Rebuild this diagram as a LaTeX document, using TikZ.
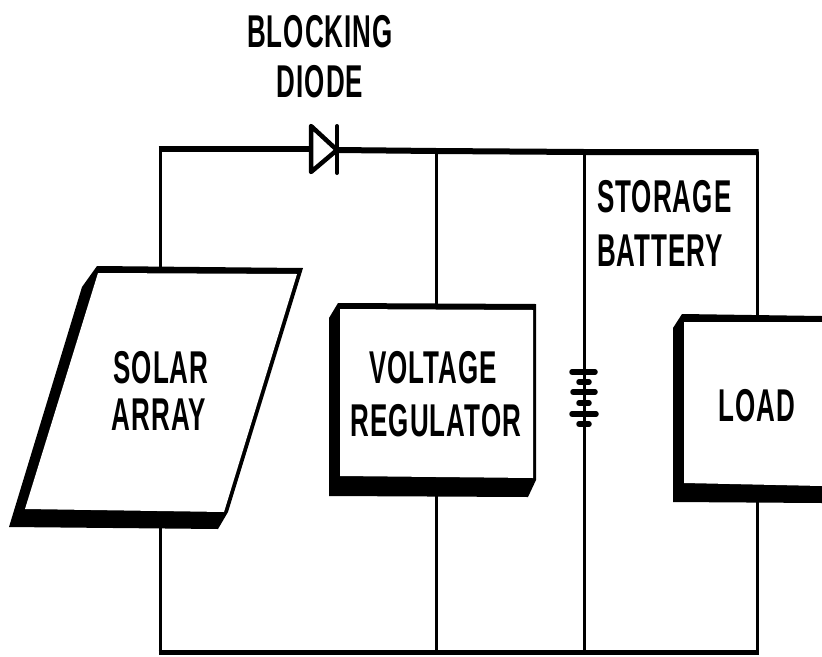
\documentclass[tikz,border=0pt]{standalone}
\usepackage{fontspec}
\setmainfont{Liberation Sans}[LetterSpace=4]
\tikzset{
 lbl/.style={font=\fontsize{46}{50}\selectfont\bfseries,inner sep=0pt,xscale=.565,transform shape,anchor=center},
 wire/.style={line width=3pt,line cap=round,line join=miter},
 bus/.style={line width=6pt,line cap=butt},
 plate/.style={line width=5.5pt,line cap=round},
 shadowfill/.style={fill=black,draw=none},
 face/.style={fill=white,draw=none}
}
\begin{document}
\begin{tikzpicture}[x=1pt,y=-1pt]
\useasboundingbox (0,0) rectangle (822,656);
% junctions
\coordinate (TL) at (160,149);
\coordinate (Dleft) at (310,149);
\coordinate (Dtip) at (337,150);
\coordinate (TR1) at (436,151);
\coordinate (TR2) at (584,152);
\coordinate (TR3) at (757,152);
\coordinate (BL) at (160,652);
\coordinate (BR1) at (436,652);
\coordinate (BR2) at (584,652);
\coordinate (BR3) at (757,652);
\coordinate (SAtop) at (160,268);
\coordinate (SAbot) at (160,527);
\coordinate (VRtop) at (436,306);
\coordinate (VRbot) at (436,494);
\coordinate (BATtop) at (584,372);
\coordinate (BATbot) at (584,424);
\coordinate (LDtop) at (757,316);
\coordinate (LDbot) at (757,502);
% wires
\draw[wire] (SAtop) -- (TL);
\draw[bus] (158.5,149) -- (Dleft);
\draw[bus] (Dtip) -- (TR1) -- (TR2) -- (758.5,152);
\draw[wire] (TR1) -- (VRtop);
\draw[wire] (TR2) -- (BATtop);
\draw[wire] (TR3) -- (LDtop);
\draw[wire] (SAbot) -- (BL);
\draw[wire] (VRbot) -- (BR1);
\draw[wire] (BATbot) -- (BR2);
\draw[wire] (LDbot) -- (BR3);
\draw[line width=5pt,line cap=butt] (158.5,652) -- (758.5,652);
% diode
\draw[line width=4.5pt,line join=round,fill=white] (311,126) -- (Dtip) -- (311,172) -- cycle;
\draw[line width=4pt,line cap=round] (337,126) -- (337,173);
% solar array
\fill[shadowfill] (97,266) -- (303,268) -- (228,512) -- (218,529) -- (9,527) -- (82,287) -- cycle;
\fill[face] (98,273) -- (297,274) -- (224,512) -- (25,509) -- cycle;
% regulator
\fill[shadowfill] (338,303) -- (536,304) -- (536,480) -- (528,497) -- (329,496) -- (329,318) -- cycle;
\fill[face] (340,309) -- (533,310) -- (533,478) -- (340,476) -- cycle;
% load
\fill[shadowfill] (682,314) -- (822,316) -- (822,503) -- (673,502) -- (673,328) -- cycle;
\fill[face] (684,322) -- (822,322) -- (822,486) -- (684,483) -- cycle;
% battery
\draw[plate] (572,372) -- (595,372);
\draw[plate] (579,382) -- (589,382);
\draw[plate] (573,392) -- (595,392);
\draw[plate] (579,403) -- (589,403);
\draw[plate] (572,414) -- (596,414);
\draw[plate] (579,424) -- (589,424);
\draw[wire] (584,372) -- (584,424);
% labels
\node[lbl] (t1) at (320,32) {BLOCKING};
\node[lbl] (t2) at (320,82) {DIODE};
\node[lbl,anchor=west] (t3) at (597,197) {STORAGE};
\node[lbl,anchor=west] (t4) at (597,251) {BATTERY};
\node[lbl] (t5) at (161,368) {SOLAR};
\node[lbl] (t6) at (159,415) {ARRAY};
\node[lbl] (t7) at (433,368) {VOLTAGE};
\node[lbl] (t8) at (436,421) {REGULATOR};
\node[lbl] (t9) at (757,406) {LOAD};
\end{tikzpicture}
\end{document}
